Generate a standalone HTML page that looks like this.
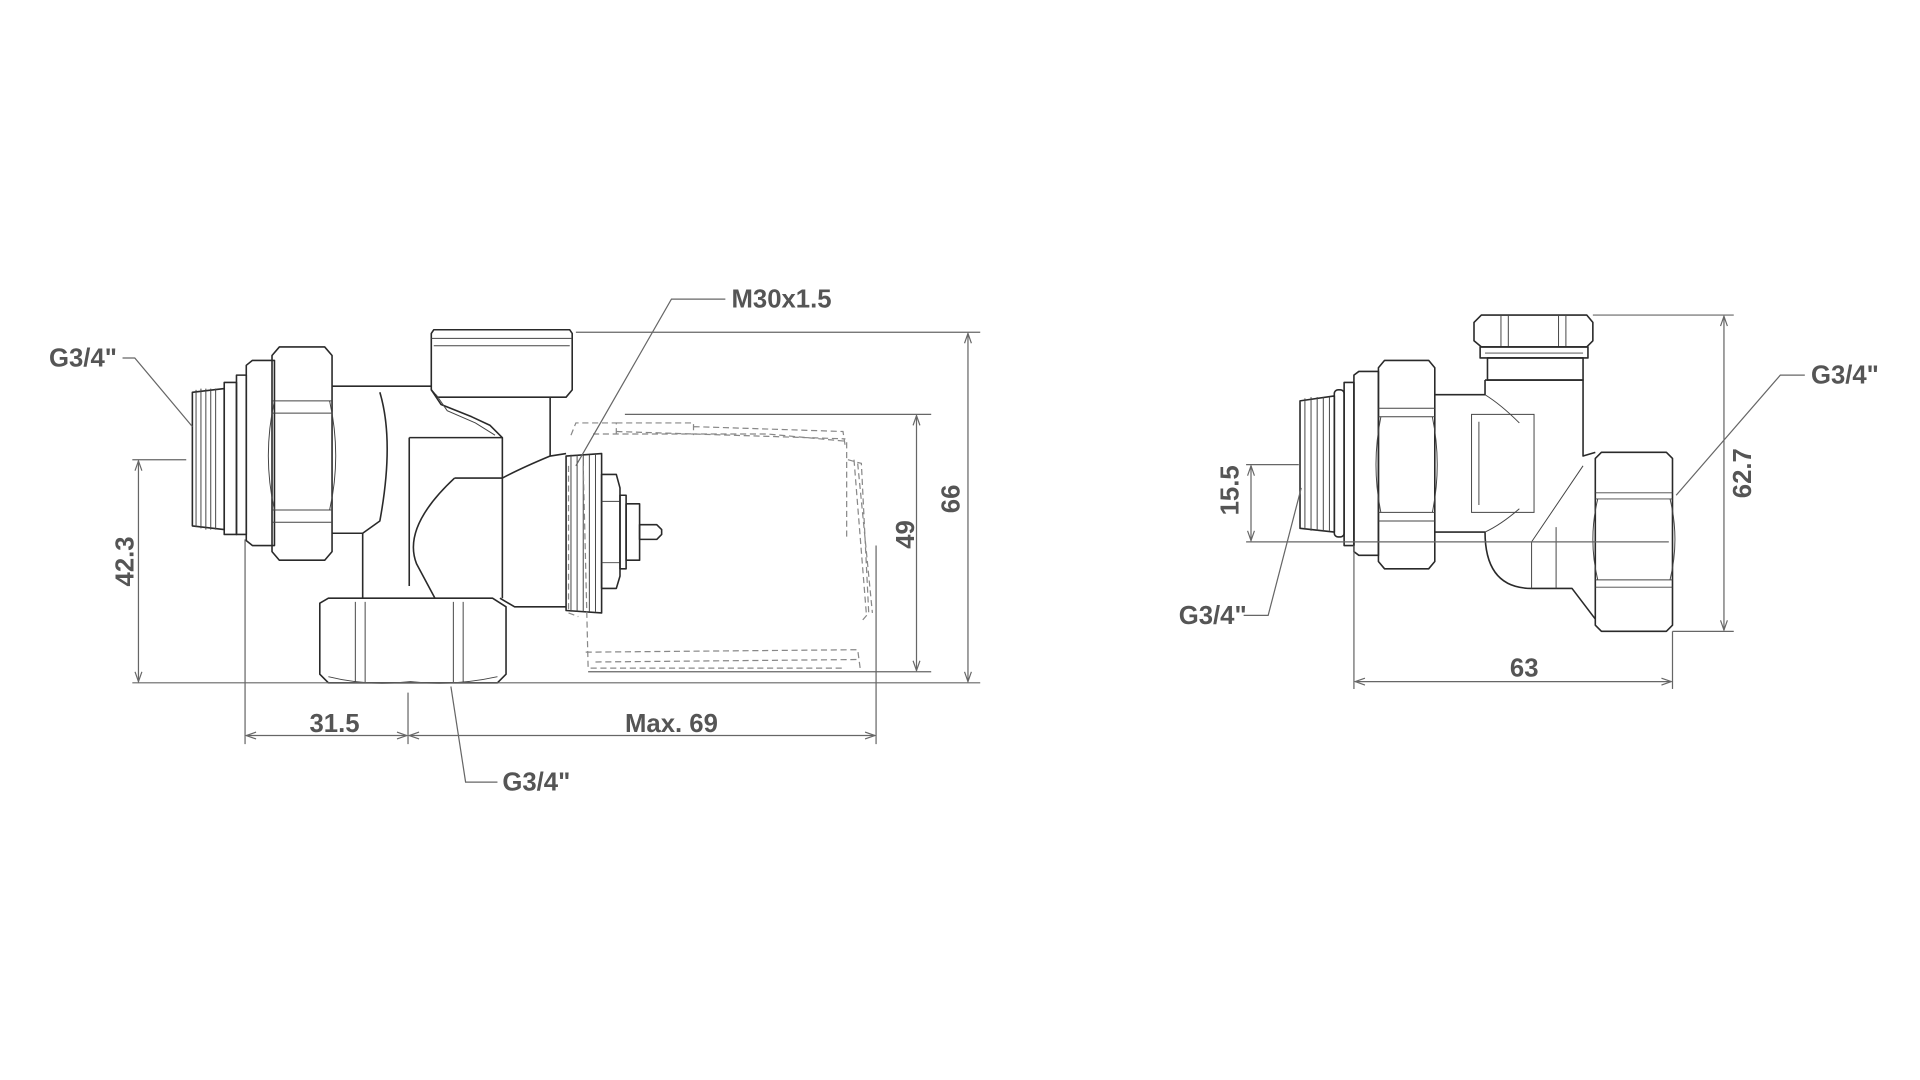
<!DOCTYPE html>
<html><head><meta charset="utf-8"><style>
html,body{margin:0;padding:0;background:#fff;}
svg{display:block;}
text{font-family:"Liberation Sans Narrow","Liberation Sans",sans-serif;font-weight:bold;fill:#555;font-size:21px;}
.b{fill:none;stroke:#2a2a2a;stroke-width:1.3;stroke-linejoin:round;}
.t{fill:none;stroke:#444;stroke-width:0.8;}
.d{fill:none;stroke:#666;stroke-width:1;}
.dash{fill:none;stroke:#888;stroke-width:1;stroke-dasharray:5,3;}
</style></head><body>
<svg width="1920" height="1080" viewBox="0 0 1567 881" preserveAspectRatio="none" xmlns="http://www.w3.org/2000/svg">
<defs>
<marker id="a" viewBox="0 0 10 10" refX="10" refY="5" markerWidth="10" markerHeight="8" orient="auto-start-reverse" markerUnits="userSpaceOnUse"><path d="M0,1.5 L10,5 L0,8.5" fill="none" stroke="#666" stroke-width="1.2"/></marker>
</defs>

<!-- ===== LEFT DRAWING ===== -->
<path class="b" d="M157,320 L183,317 L183,432 L157,429 Z"/>
<g class="t"><line x1="160" y1="318" x2="160" y2="430"/><line x1="164" y1="317" x2="164" y2="431"/><line x1="168" y1="317" x2="168" y2="432"/><line x1="172" y1="317" x2="172" y2="432"/><line x1="176" y1="317" x2="176" y2="432"/></g>
<rect class="b" x="183" y="312" width="10" height="124"/>
<rect class="b" x="193" y="306" width="8" height="130"/>
<path class="b" d="M201,298 L206,294 L224,294 L224,445 L206,445 L201,441 Z"/>
<path class="b" d="M222,290 L228,283 L265,283 L271,290 L271,450 L265,457 L228,457 L222,450 Z"/>
<path class="t" d="M222,327 L271,327 M222,337 L271,337 M222,416 L271,416 M222,426 L271,426"/>
<path class="t" d="M224,327 Q214,372 224,416 M269,327 Q279,372 269,416"/>
<!-- pipe -->
<path class="b" d="M271,315 L352,315"/>
<path class="b" d="M271,435 L296,435 L296,488"/>
<!-- top port -->
<path class="b" d="M352,272 L354,269 L465,269 L467,272 L467,318 L462,324 L357,324 L352,318 Z"/>
<path class="t" d="M352,276 L467,276 M354,282 L465,282"/>
<!-- transition under port -->
<path class="b" d="M352,318 L360,330 L385,340 L400,347 L410,357 L410,390"/>
<path class="b" d="M449,324 L449,372"/>
<path class="t" d="M356,322 L365,335 L388,345 L404,355"/>
<!-- body -->
<path class="b" d="M334,357 L410,357"/>
<path class="b" d="M334,357 L334,478"/>
<path class="b" d="M410,390 Q425,382 449,372 L462,370"/>
<path class="b" d="M371,390 Q328,430 340,460 L355,488"/>
<path class="b" d="M371,390 L410,390"/>
<path class="b" d="M310,320 Q322,360 310,425 L296,435"/>
<path class="b" d="M408,488 L420,495 L462,495"/>
<path class="b" d="M410,390 L410,488"/>
<!-- bottom nut -->
<path class="b" d="M261,492 L268,488 L402,488 L413,495 L413,550 L406,557 L268,557 L261,550 Z"/>
<path class="t" d="M290,491 L290,557 M298,491 L298,557 M370,491 L370,557 M378,491 L378,557"/>
<path class="t" d="M268,552 Q300,560 335,556 Q370,560 406,552"/>
<!-- right port thread -->
<path class="b" d="M462,372 L491,370 L491,500 L462,498 Z"/>
<g class="t"><line x1="466" y1="371" x2="466" y2="499"/><line x1="471" y1="371" x2="471" y2="499"/><line x1="476" y1="371" x2="476" y2="499"/><line x1="481" y1="371" x2="481" y2="499"/><line x1="486" y1="371" x2="486" y2="499"/></g>
<path class="b" d="M491,387 L503,387 L506,398 L506,470 L503,480 L491,480 Z"/>
<path class="t" d="M491,409 L506,409 M491,459 L506,459"/>
<rect class="b" x="506" y="404" width="5" height="60"/>
<rect class="b" x="511" y="411" width="11" height="46"/>
<path class="b" d="M522,428 L536,428 L540,432 L540,436 L536,440 L522,440 Z"/>
<!-- dashed actuator -->
<path class="dash" d="M484,354 L626,354 L691,360 L691,440 M687,545 L480,545 L476,380"/>
<path class="dash" d="M503,345 L566,345 L566,355 M566,348 L688,352 L690,365 M503,352 L690,358"/>
<path class="dash" d="M466,355 L470,345 L503,345 L503,355"/>
<path class="dash" d="M692,375 L703,378 L709,500 L703,507 M697,375 L707,500 M700,378 L712,500"/>
<path class="dash" d="M478,532 L700,530 L702,545 M486,540 L700,538"/>
<path class="dash" d="M464,380 L464,500 L472,503"/>
<line class="d" x1="715" y1="445" x2="715" y2="607"/>

<!-- dims left -->
<line class="d" x1="108" y1="557" x2="800" y2="557"/>
<line class="d" x1="108" y1="375" x2="152" y2="375"/>
<line class="d" x1="113" y1="376" x2="113" y2="556" marker-start="url(#a)" marker-end="url(#a)"/>
<text transform="translate(109,458) rotate(-90)" text-anchor="middle">42.3</text>
<line class="d" x1="470" y1="271" x2="800" y2="271"/>
<line class="d" x1="790" y1="272" x2="790" y2="556" marker-start="url(#a)" marker-end="url(#a)"/>
<text transform="translate(783,407) rotate(-90)" text-anchor="middle">66</text>
<line class="d" x1="510" y1="338" x2="760" y2="338"/>
<line class="d" x1="480" y1="548" x2="760" y2="548"/>
<line class="d" x1="748" y1="339" x2="748" y2="547" marker-start="url(#a)" marker-end="url(#a)"/>
<text transform="translate(746,436) rotate(-90)" text-anchor="middle">49</text>
<line class="d" x1="200" y1="440" x2="200" y2="607"/>
<line class="d" x1="333" y1="565" x2="333" y2="607"/>
<line class="d" x1="201" y1="600" x2="332" y2="600" marker-start="url(#a)" marker-end="url(#a)"/>
<line class="d" x1="334" y1="600" x2="714" y2="600" marker-start="url(#a)" marker-end="url(#a)"/>
<text x="273" y="597" text-anchor="middle">31.5</text>
<text x="548" y="597" text-anchor="middle">Max. 69</text>
<path class="d" d="M368,560 L380,638 L406,638"/>
<text x="410" y="645">G3/4"</text>
<path class="d" d="M100,292 L110,292 L157,348"/>
<text x="40" y="299">G3/4"</text>
<path class="d" d="M470,380 L548,244 L592,244"/>
<text x="597" y="251">M30x1.5</text>

<!-- ===== RIGHT DRAWING ===== -->
<path class="b" d="M1203,263 L1209,257 L1295,257 L1300,263 L1300,278 L1295,283 L1209,283 L1203,278 Z"/>
<path class="t" d="M1225,257 L1225,283 M1231,257 L1231,283 M1272,257 L1272,283 M1278,257 L1278,283"/>
<rect class="b" x="1208" y="283" width="88" height="9"/>
<path class="t" d="M1212,288 L1292,288"/>
<rect class="b" x="1214" y="292" width="78" height="18"/>
<path class="b" d="M1212,310 L1292,310 L1292,372 L1302,369"/>
<path class="b" d="M1212,310 L1212,322 L1171,322"/>
<path class="b" d="M1061,327 L1089,323 L1089,434 L1061,431 Z"/>
<g class="t"><line x1="1065" y1="325" x2="1065" y2="432"/><line x1="1070" y1="324" x2="1070" y2="433"/><line x1="1075" y1="324" x2="1075" y2="433"/><line x1="1080" y1="324" x2="1080" y2="433"/><line x1="1085" y1="324" x2="1085" y2="433"/></g>
<rect class="b" x="1089" y="318" width="8" height="120" rx="3"/>
<rect class="b" x="1097" y="312" width="8" height="133"/>
<path class="b" d="M1105,306 L1109,303 L1125,303 L1125,453 L1109,453 L1105,450 Z"/>
<path class="b" d="M1125,300 L1130,294 L1166,294 L1171,300 L1171,458 L1166,464 L1130,464 L1125,458 Z"/>
<path class="t" d="M1125,333 L1171,333 M1125,340 L1171,340 M1125,418 L1171,418 M1125,425 L1171,425"/>
<path class="t" d="M1127,340 Q1119,379 1127,418 M1169,340 Q1177,379 1169,418"/>
<path class="b" d="M1171,434 L1212,434 Q1212,480 1250,480 L1283,480 L1302,505"/>
<path class="t" d="M1201,338 L1252,338 L1252,418 L1201,418 Z M1207,344 L1207,412"/>
<path class="t" d="M1212,322 Q1225,330 1240,345 M1212,434 Q1225,428 1240,415"/>
<path class="t" d="M1250,442 L1250,480 M1270,430 L1270,480 M1250,442 L1292,380"/>
<path class="b" d="M1302,374 L1307,369 L1360,369 L1365,374 L1365,510 L1360,515 L1307,515 L1302,510 Z"/>
<path class="t" d="M1302,402 L1365,402 M1302,407 L1365,407 M1302,473 L1365,473 M1302,479 L1365,479"/>
<path class="t" d="M1304,407 Q1296,440 1304,473 M1363,407 Q1371,440 1363,473"/>

<line class="d" x1="1017" y1="442" x2="1362" y2="442"/>
<line class="d" x1="1017" y1="379" x2="1060" y2="379"/>
<line class="d" x1="1021" y1="380" x2="1021" y2="441" marker-start="url(#a)" marker-end="url(#a)"/>
<text transform="translate(1011,400) rotate(-90)" text-anchor="middle">15.5</text>
<line class="d" x1="1300" y1="257" x2="1415" y2="257"/>
<line class="d" x1="1365" y1="515" x2="1415" y2="515"/>
<line class="d" x1="1407" y1="258" x2="1407" y2="514" marker-start="url(#a)" marker-end="url(#a)"/>
<text transform="translate(1429,386) rotate(-90)" text-anchor="middle">62.7</text>
<line class="d" x1="1105" y1="445" x2="1105" y2="562"/>
<line class="d" x1="1365" y1="515" x2="1365" y2="562"/>
<line class="d" x1="1106" y1="556" x2="1364" y2="556" marker-start="url(#a)" marker-end="url(#a)"/>
<text x="1244" y="552" text-anchor="middle">63</text>
<path class="d" d="M1368,404 L1453,306 L1473,306"/>
<text x="1478" y="313">G3/4"</text>
<path class="d" d="M1062,398 L1035,502 L1015,502"/>
<text x="962" y="509">G3/4"</text>
</svg>
</body></html>
